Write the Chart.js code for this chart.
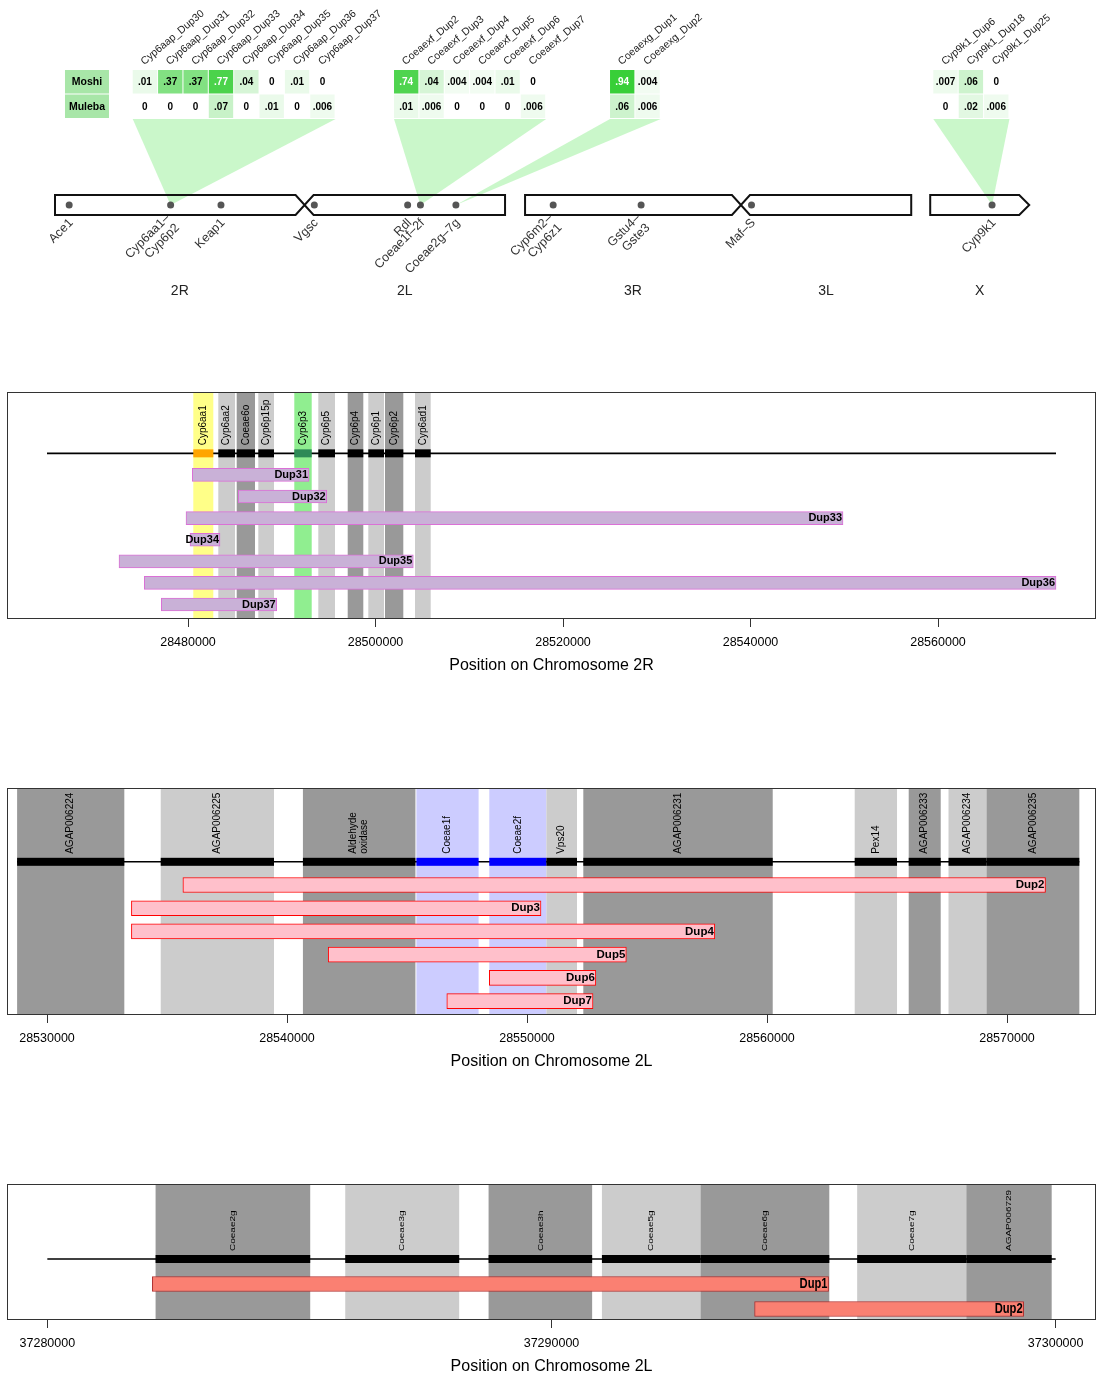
<!DOCTYPE html>
<html><head><meta charset="utf-8">
<script src="https://cdn.jsdelivr.net/npm/chart.js@4"></script>
<style>
html,body{margin:0;padding:0;background:#fff;overflow:hidden;width:1097px;height:1374px}
.p{position:absolute;left:0;width:1097px}
</style></head><body>
<div class="p" style="top:0;height:310px"><canvas id="c0"></canvas></div>
<div class="p" style="top:380px;height:299px"><canvas id="c1"></canvas></div>
<div class="p" style="top:776px;height:299px"><canvas id="c2"></canvas></div>
<div class="p" style="top:1172px;height:208px"><canvas id="c3"></canvas></div>
<script>
// ================= DATA =================
// Genome overview
const chromNames = ['2R','2L','3R','3L','X'];
const chromLengthsMb = [61.5, 49.4, 53.2, 41.96, 24.4];
const locusLabels = ['Ace1','Cyp6aa1–\nCyp6p2','Keap1','Vgsc','Rdl','Coeae1f–2f','Coeae2g–7g','Cyp6m2–\nCyp6z1','Gstu4–\nGste3','Maf–S','Cyp9k1'];
const locusChrom  = ['2R','2R','2R','2L','2L','2L','2L','3R','3R','3L','X'];
const locusPosMb  = [3.49, 28.49, 40.9, 2.4, 25.4, 28.55, 37.29, 6.93, 28.6, 2.6, 15.24];

// Duplication frequency tables
const popNames = ['Moshi','Muleba'];
const cyp6aapCols   = ['Cyp6aap_Dup30','Cyp6aap_Dup31','Cyp6aap_Dup32','Cyp6aap_Dup33','Cyp6aap_Dup34','Cyp6aap_Dup35','Cyp6aap_Dup36','Cyp6aap_Dup37'];
const cyp6aapMoshi  = [0.01, 0.37, 0.37, 0.77, 0.04, 0, 0.01, 0];
const cyp6aapMuleba = [0, 0, 0, 0.07, 0, 0.01, 0, 0.006];
const coeaexfCols   = ['Coeaexf_Dup2','Coeaexf_Dup3','Coeaexf_Dup4','Coeaexf_Dup5','Coeaexf_Dup6','Coeaexf_Dup7'];
const coeaexfMoshi  = [0.74, 0.04, 0.004, 0.004, 0.01, 0];
const coeaexfMuleba = [0.01, 0.006, 0, 0, 0, 0.006];
const coeaexgCols   = ['Coeaexg_Dup1','Coeaexg_Dup2'];
const coeaexgMoshi  = [0.94, 0.004];
const coeaexgMuleba = [0.06, 0.006];
const cyp9k1Cols    = ['Cyp9k1_Dup6','Cyp9k1_Dup18','Cyp9k1_Dup25'];
const cyp9k1Moshi   = [0.007, 0.06, 0];
const cyp9k1Muleba  = [0, 0.02, 0.006];

// Panel: Chromosome 2R (Cyp6aa/Cyp6p cluster)
const p2GeneNames = ['Cyp6aa1','Cyp6aa2','Coeae6o','Cyp6p15p','Cyp6p3','Cyp6p5','Cyp6p4','Cyp6p1','Cyp6p2','Cyp6ad1'];
const p2GeneStart = [28480565,28483232,28485195,28487499,28491339,28493899,28497035,28499232,28501013,28504213];
const p2GeneEnd   = [28482699,28485013,28487147,28489173,28493195,28495680,28498699,28500907,28502965,28505888];
const p2DupNames  = ['Dup31','Dup32','Dup33','Dup34','Dup35','Dup36','Dup37'];
const p2DupStart  = [28480459,28485365,28479787,28480213,28472640,28475339,28477152];
const p2DupEnd    = [28492907,28494795,28549867,28483413,28504032,28572587,28489461];
const p2Region    = [28464960,28572587];
const p2Ticks     = [28480000,28500000,28520000,28540000,28560000];

// Panel: Chromosome 2L (Coeae1f/2f region)
const p3GeneNames = ['AGAP006224','AGAP006225','Aldehyde\noxidase','Coeae1f','Coeae2f','Vps20','AGAP006231','Pex14','AGAP006233','AGAP006234','AGAP006235'];
const p3GeneStart = [28528754,28534738,28540663,28545392,28548429,28550808,28552346,28563654,28565904,28567563,28569146];
const p3GeneEnd   = [28533221,28539458,28545350,28547983,28550808,28552083,28560238,28565417,28567237,28569146,28573013];
const p3DupNames  = ['Dup2','Dup3','Dup4','Dup5','Dup6','Dup7'];
const p3DupStart  = [28535662,28533517,28533517,28541717,28548429,28546658];
const p3DupEnd    = [28571604,28550583,28557825,28554138,28552867,28552750];
const p3Region    = [28528754,28573013];
const p3Ticks     = [28530000,28540000,28550000,28560000,28570000];

// Panel: Chromosome 2L (Coeae2g-7g region)
const p4GeneNames = ['Coeae2g','Coeae3g','Coeae3h','Coeae5g','Coeae6g','Coeae7g','AGAP006729'];
const p4GeneStart = [37282147,37285909,37288752,37291000,37292956,37296063,37298228];
const p4GeneEnd   = [37285214,37288169,37290806,37292956,37295510,37298228,37299921];
const p4DupNames  = ['Dup1','Dup2'];
const p4DupStart  = [37282083,37294028];
const p4DupEnd    = [37295496,37299365];
const p4Region    = [37280000,37300000];
const p4Ticks     = [37280000,37290000,37300000];

// ================= STYLE / LAYOUT =================
const FAM = '"Liberation Sans", Arial, Helvetica, sans-serif';
function hasFont(f){const c=document.createElement('canvas').getContext('2d');const s='mmmwwwiiil0O9';c.font='40px monospace';const a=c.measureText(s).width;c.font='40px "'+f+'", monospace';return Math.abs(c.measureText(s).width-a)>0.5;}
const NARROW = hasFont('Liberation Sans Narrow') ? '"Liberation Sans Narrow", "Liberation Sans", sans-serif' : null;
Chart.defaults.font.family = FAM;

const DARK='#999999', LIGHT='#cccccc';
const p2Band = ['#ffff88',LIGHT,DARK,LIGHT,'#90ee90',LIGHT,DARK,LIGHT,DARK,LIGHT];
const p2Bar  = ['#ffa500','#000','#000','#000','#2e8b57','#000','#000','#000','#000','#000'];
const p3Band = [DARK,LIGHT,DARK,'#ccccff','#ccccff',LIGHT,DARK,LIGHT,DARK,LIGHT,DARK];
const p3Bar  = ['#000','#000','#000','#0000ff','#0000ff','#000','#000','#000','#000','#000','#000'];
const p4Band = [DARK,LIGHT,DARK,LIGHT,DARK,LIGHT,DARK];
const p4Bar  = ['#000','#000','#000','#000','#000','#000','#000'];

function txt(ctx,text,x,y,o){
  ctx.save();ctx.translate(x,y);if(o.rot)ctx.rotate(o.rot);if(o.sx||o.sy)ctx.scale(o.sx||1,o.sy||1);
  ctx.font=o.font;ctx.fillStyle=o.color||'#000';ctx.textAlign=o.align||'left';ctx.textBaseline=o.base||'middle';
  const lines=String(text).split('\n');const lh=o.lh||12;
  lines.forEach((l,i)=>ctx.fillText(l,0,(i-(lines.length-1)/2)*lh));
  ctx.restore();
}

// ---------- Top genome overview ----------
const GAP1 = 4.93, GAP2 = 4.68;
const chromOffset = {};
(function(){let o=0;chromNames.forEach((n,i)=>{chromOffset[n]=o;o+=chromLengthsMb[i];if(n==='2L')o+=GAP1;if(n==='3L')o+=GAP2;});})();
const locusX = locusPosMb.map((p,i)=>chromOffset[locusChrom[i]]+p);
const CHR_Y = 205;
const tables = [
  {cols:cyp6aapCols, vals:[cyp6aapMoshi,cyp6aapMuleba], left:19.15, locus:1},
  {cols:coeaexfCols, vals:[coeaexfMoshi,coeaexfMuleba], left:83.54, locus:5},
  {cols:coeaexgCols, vals:[coeaexgMoshi,coeaexgMuleba], left:136.77, locus:6},
  {cols:cyp9k1Cols,  vals:[cyp9k1Moshi,cyp9k1Muleba],  left:216.44, locus:10}
];
const CELL_W = 6.25, ROW_TOP = 70, ROW_H = 24.5, LABEL_CELL = [2.46, 13.3];
function fmt(v){return v===0?'0':String(v).replace(/^0\./,'.');}
function cellColor(v){const a=Math.sqrt(v);return 'rgba(50,205,50,'+a.toFixed(3)+')';}

const genomePlugin = {
  id:'genome',
  beforeDatasetsDraw(chart){
    const {ctx, scales:{x,y}} = chart;
    const X=v=>x.getPixelForValue(v), Y=v=>y.getPixelForValue(v);
    ctx.save();
    const tBot = Y(ROW_TOP+2*ROW_H);
    tables.forEach(t=>{
      ctx.fillStyle='rgba(144,238,144,0.48)';
      ctx.beginPath();ctx.moveTo(X(t.left),tBot);ctx.lineTo(X(t.left+t.cols.length*CELL_W),tBot);
      ctx.lineTo(X(locusX[t.locus]),Y(CHR_Y));ctx.closePath();ctx.fill();
    });
    ctx.strokeStyle='#111';ctx.lineWidth=2;ctx.lineJoin='miter';
    const yt=Y(CHR_Y-10), yb=Y(CHR_Y+10), ym=Y(CHR_Y), pin=9;
    function pair(a,b){
      const x0=X(chromOffset[a]), xc=X(chromOffset[b]), x1=X(chromOffset[b]+chromLengthsMb[chromNames.indexOf(b)]);
      ctx.beginPath();ctx.moveTo(x0,yt);ctx.lineTo(xc-pin,yt);ctx.lineTo(xc,ym);ctx.lineTo(xc+pin,yt);ctx.lineTo(x1,yt);
      ctx.lineTo(x1,yb);ctx.lineTo(xc+pin,yb);ctx.lineTo(xc,ym);ctx.lineTo(xc-pin,yb);ctx.lineTo(x0,yb);ctx.closePath();ctx.stroke();
    }
    pair('2R','2L');pair('3R','3L');
    const xx0=X(chromOffset['X']), xx1=X(chromOffset['X']+chromLengthsMb[4]);
    ctx.beginPath();ctx.moveTo(xx0,yt);ctx.lineTo(xx1-10,yt);ctx.lineTo(xx1,ym);ctx.lineTo(xx1-10,yb);ctx.lineTo(xx0,yb);ctx.closePath();ctx.stroke();
    popNames.forEach((p,r)=>{
      const y0=Y(ROW_TOP+r*ROW_H), y1=Y(ROW_TOP+(r+1)*ROW_H);
      ctx.fillStyle='#a8e6a8';ctx.fillRect(X(LABEL_CELL[0]),y0,X(LABEL_CELL[1])-X(LABEL_CELL[0]),y1-y0-1);
      txt(ctx,p,(X(LABEL_CELL[0])+X(LABEL_CELL[1]))/2,(y0+y1)/2,{font:'bold 10.5px '+FAM,align:'center'});
    });
    tables.forEach(t=>{
      t.cols.forEach((c,j)=>{
        const xa=X(t.left+j*CELL_W), xb=X(t.left+(j+1)*CELL_W), cx=(xa+xb)/2;
        t.vals.forEach((vals,r)=>{
          const v=vals[j], y0=Y(ROW_TOP+r*ROW_H), y1=Y(ROW_TOP+(r+1)*ROW_H);
          if(v>0){ctx.fillStyle=cellColor(v);ctx.fillRect(xa,y0,xb-xa-1,y1-y0-1);}
          txt(ctx,fmt(v),cx-0.5,(y0+y1)/2,{font:'bold 10px '+FAM,align:'center',color:v>0.5?'#fff':'#000'});
        });
        txt(ctx,c,cx-3,Y(ROW_TOP)-7,{font:'10.5px '+FAM,rot:-40*Math.PI/180,color:'#222'});
      });
    });
    ctx.restore();
  },
  afterDatasetsDraw(chart){
    const {ctx, scales:{x,y}} = chart;
    const X=v=>x.getPixelForValue(v), Y=v=>y.getPixelForValue(v);
    locusLabels.forEach((l,i)=>{
      txt(ctx,l,X(locusX[i])+2,Y(CHR_Y+16),{font:'12.5px '+FAM,rot:-Math.PI/4,align:'right',color:'#333',lh:13.5});
    });
    chromNames.forEach((n,i)=>{
      txt(ctx,n,X(chromOffset[n]+chromLengthsMb[i]/2),Y(291),{font:'14px '+FAM,align:'center',color:'#222'});
    });
  }
};

new Chart(document.getElementById('c0'),{
  type:'scatter',
  data:{datasets:[{data:locusX.map(v=>({x:v,y:CHR_Y})),pointRadius:3.5,pointBackgroundColor:'#555',pointBorderWidth:0}]},
  options:{animation:false,responsive:true,maintainAspectRatio:false,events:[],layout:{padding:0,autoPadding:false},
    plugins:{legend:{display:false},tooltip:{enabled:false}},
    scales:{x:{type:'linear',min:-13.554,max:256.77,display:false},y:{type:'linear',min:0,max:310,reverse:true,display:false}}},
  plugins:[genomePlugin]
});

// ---------- Gene panels ----------
function panelPlugin(cfg){
  return {
    id:'panel_'+cfg.key,
    beforeDatasetsDraw(chart){
      const {ctx, chartArea:a, scales:{x,y}} = chart;
      const X=v=>x.getPixelForValue(v);
      ctx.save();
      ctx.beginPath();ctx.rect(a.left,a.top,a.right-a.left,a.bottom-a.top);ctx.clip();
      cfg.geneStart.forEach((s,i)=>{const x0=X(s),x1=X(cfg.geneEnd[i]);ctx.fillStyle=cfg.band[i];ctx.fillRect(x0,a.top,x1-x0,a.bottom-a.top);});
      const yl=y.getPixelForValue(0);
      ctx.strokeStyle='#000';ctx.lineWidth=1.6;ctx.beginPath();ctx.moveTo(X(cfg.region[0]),yl);ctx.lineTo(X(cfg.region[1]),yl);ctx.stroke();
      cfg.geneStart.forEach((s,i)=>{const x0=X(s),x1=X(cfg.geneEnd[i]);ctx.fillStyle=cfg.bar[i];ctx.fillRect(x0,yl-4,x1-x0,8);});
      cfg.geneNames.forEach((n,i)=>{
        const cx=(X(cfg.geneStart[i])+X(cfg.geneEnd[i]))/2;
        txt(ctx,n,cx,yl-8,{font:'10px '+FAM,rot:-Math.PI/2,align:'left',lh:11,sy:cfg.labelSy||1});
      });
      ctx.restore();
    },
    afterDatasetsDraw(chart){
      const {ctx, chartArea:a, scales:{x,y}} = chart;
      cfg.dupNames.forEach((n,i)=>{
        txt(ctx,n,x.getPixelForValue(cfg.dupEnd[i])-1,y.getPixelForValue(i+1),{font:'bold '+cfg.dupFont+'px '+FAM,align:'right',sx:cfg.dupSx||1});
      });
      ctx.save();ctx.strokeStyle='#333';ctx.lineWidth=1;ctx.strokeRect(a.left+0.5,a.top+0.5,a.right-a.left-1,a.bottom-a.top-1);ctx.restore();
    }
  };
}

function makePanel(id,cfg){
  return new Chart(document.getElementById(id),{
    type:'bar',
    data:{datasets:[{data:cfg.dupNames.map((n,i)=>({x:[cfg.dupStart[i],cfg.dupEnd[i]],y:i+1})),
      backgroundColor:cfg.fill,borderColor:cfg.border,borderWidth:1,borderSkipped:false,barThickness:cfg.barH}]},
    options:{indexAxis:'y',animation:false,responsive:true,maintainAspectRatio:false,events:[],
      layout:{padding:{left:7,right:1,top:12,bottom:0},autoPadding:false},
      plugins:{legend:{display:false},tooltip:{enabled:false}},
      scales:{
        x:{type:'linear',position:'bottom',min:cfg.xlim[0],max:cfg.xlim[1],
          afterBuildTicks:s=>{s.ticks=cfg.ticks.map(v=>({value:v}));},
          afterFit:s=>{s.height=60;},
          grid:{drawOnChartArea:false,drawTicks:true,tickLength:8,tickColor:'#333',color:'#333'},
          border:{display:false},
          ticks:{callback:v=>String(v),autoSkip:false,maxRotation:0,color:'#000',font:{family:cfg.tickFam,size:cfg.tickSize},padding:24-8-cfg.tickSize*0.6},
          title:{display:true,text:cfg.title,color:'#000',font:{family:cfg.titleFam,size:cfg.titleSize},padding:{top:0,bottom:13-cfg.titleSize*0.6}}},
        y:{type:'linear',min:cfg.ylim[0],max:cfg.ylim[1],reverse:true,display:false,offset:false}
      }},
    plugins:[panelPlugin(cfg)]
  });
}

makePanel('c1',{key:'2R',geneNames:p2GeneNames,geneStart:p2GeneStart,geneEnd:p2GeneEnd,dupNames:p2DupNames,dupStart:p2DupStart,dupEnd:p2DupEnd,
  region:p2Region,ticks:p2Ticks,xlim:[28460693,28576853],ylim:[-2.84,7.67],band:p2Band,bar:p2Bar,fill:'#c9b1d7',border:'#da70d6',barH:13,dupFont:11,
  tickFam:FAM,tickSize:12.5,titleFam:FAM,titleSize:16,title:'Position on Chromosome 2R'});
makePanel('c2',{key:'2La',geneNames:p3GeneNames,geneStart:p3GeneStart,geneEnd:p3GeneEnd,dupNames:p3DupNames,dupStart:p3DupStart,dupEnd:p3DupEnd,
  region:p3Region,ticks:p3Ticks,xlim:[28528333,28573708],ylim:[-3.18,6.6],band:p3Band,bar:p3Bar,fill:'#ffc0cb',border:'#ff0000',barH:15,dupFont:11.5,
  tickFam:FAM,tickSize:12.5,titleFam:FAM,titleSize:16,title:'Position on Chromosome 2L'});
makePanel('c3',{key:'2Lb',geneNames:p4GeneNames,geneStart:p4GeneStart,geneEnd:p4GeneEnd,dupNames:p4DupNames,dupStart:p4DupStart,dupEnd:p4DupEnd,
  region:p4Region,ticks:p4Ticks,xlim:[37279200,37300800],ylim:[-3.0,2.44],band:p4Band,bar:p4Bar,fill:'#fa8072',border:'#b03030',barH:15,dupFont:14,dupSx:0.8,labelSy:0.8,
  tickFam:NARROW||FAM,tickSize:NARROW?15:12.5,titleFam:NARROW||FAM,titleSize:NARROW?19.5:16,title:'Position on Chromosome 2L'});
</script>
</body></html>
